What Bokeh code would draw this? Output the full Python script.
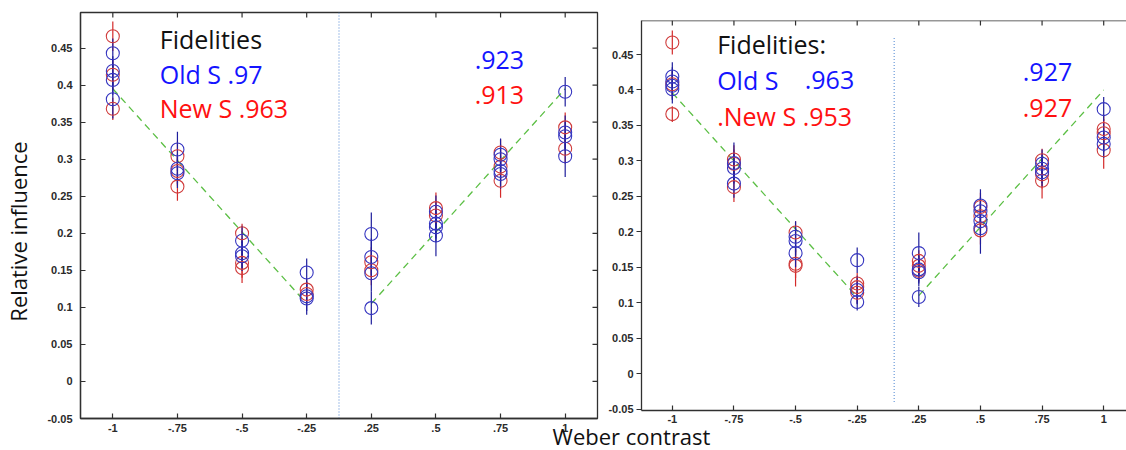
import math
from bokeh.plotting import figure
from bokeh.models import Range1d, FixedTicker, Label, GridBox, Span
from bokeh.embed import file_html
from bokeh.resources import INLINE

# ---------------- data ----------------
contrast_labels = ["-1", "-.75", "-.5", "-.25", ".25", ".5", ".75", "1"]
y_tick_labels = ["-0.05", "0", "0.05", "0.1", "0.15", "0.2", "0.25", "0.3", "0.35", "0.4", "0.45"]

# Left panel, Old S (blue) and New S (red): values per contrast + error half-widths
left_old_y = [[0.443, 0.419, 0.407, 0.381], [0.313, 0.287, 0.281], [0.190, 0.173, 0.169],
              [0.147, 0.115, 0.112], [0.199, 0.168, 0.146, 0.099], [0.229, 0.213, 0.208, 0.197],
              [0.306, 0.300, 0.284, 0.280], [0.391, 0.336, 0.331, 0.304]]
left_old_err = [[0.020, 0.020, 0.020, 0.026], [0.024, 0.020, 0.020], [0.020, 0.020, 0.020],
                [0.019, 0.020, 0.022], [0.029, 0.025, 0.025, 0.022], [0.022, 0.020, 0.020, 0.028],
                [0.022, 0.020, 0.020, 0.020], [0.020, 0.023, 0.020, 0.028]]
left_new_y = [[0.466, 0.414, 0.368], [0.304, 0.284, 0.263], [0.200, 0.160, 0.153],
              [0.124, 0.118], [0.161, 0.150], [0.234, 0.224],
              [0.309, 0.290, 0.271], [0.343, 0.314]]
left_new_err = [[0.020, 0.020, 0.015], [0.020, 0.020, 0.019], [0.013, 0.020, 0.020],
                [0.015, 0.015], [0.020, 0.020], [0.021, 0.020],
                [0.018, 0.020, 0.023], [0.020, 0.020]]

# Right panel
right_old_y = [[0.419, 0.412, 0.406, 0.401], [0.297, 0.290, 0.268], [0.193, 0.187, 0.170],
               [0.160, 0.118, 0.101], [0.170, 0.147, 0.143, 0.108], [0.237, 0.229, 0.215, 0.205],
               [0.296, 0.289, 0.284], [0.373, 0.333, 0.324]]
right_old_err = [[0.020, 0.020, 0.020, 0.020], [0.029, 0.020, 0.020], [0.022, 0.020, 0.020],
                 [0.018, 0.020, 0.012], [0.029, 0.020, 0.020, 0.014], [0.023, 0.020, 0.020, 0.036],
                 [0.020, 0.020, 0.020], [0.017, 0.020, 0.020]]
right_new_y = [[0.467, 0.408, 0.366], [0.302, 0.296, 0.263], [0.199, 0.155, 0.152],
               [0.127, 0.122, 0.114], [0.159, 0.152, 0.145], [0.235, 0.222, 0.202],
               [0.301, 0.281, 0.272], [0.345, 0.339, 0.315]]
right_new_err = [[0.017, 0.020, 0.011], [0.020, 0.020, 0.021], [0.016, 0.020, 0.029],
                 [0.015, 0.015, 0.015], [0.015, 0.015, 0.015], [0.020, 0.020, 0.020],
                 [0.016, 0.020, 0.025], [0.020, 0.020, 0.026]]

# Model (green dashed) at contrasts -1, -.25 | .25, 1
left_fit_y = [0.395, 0.105, 0.105, 0.395]
right_fit_y = [0.396, 0.108, 0.110, 0.400]

BLUE_C = "#3535c0"
RED_C = "#d03c3c"
BLUE_E = "#1e1e9c"
RED_E = "#d42a2a"
AX = "#303030"
TXT_FONT = "Open Sans"
TICK_FONT = "Liberation Sans"

y_ticks = [float(s) for s in y_tick_labels]
x_ticks = list(range(1, len(contrast_labels) + 1))
x_over = {t: l for t, l in zip(x_ticks, contrast_labels)}
y_over = {t: l for t, l in zip(y_ticks, y_tick_labels)}


def flat(vals, errs):
    xs, ys, es = [], [], []
    for i, (vv, ee) in enumerate(zip(vals, errs)):
        for v, e in zip(vv, ee):
            xs.append(i + 1)
            ys.append(v)
            es.append(e)
    return xs, ys, es


def draw_points(p, old_y, old_e, new_y, new_e):
    nx, ny, ne = flat(new_y, new_e)
    ox, oy, oe = flat(old_y, old_e)
    p.segment(x0=nx, x1=nx, y0=[a - b for a, b in zip(ny, ne)], y1=[a + b for a, b in zip(ny, ne)],
              line_color=RED_E, line_width=1.2)
    p.segment(x0=ox, x1=ox, y0=[a - b for a, b in zip(oy, oe)], y1=[a + b for a, b in zip(oy, oe)],
              line_color=BLUE_E, line_width=1.2)
    p.scatter(nx, ny, marker="circle", size=13, fill_color=None, line_color=RED_C, line_width=1.1)
    p.scatter(ox, oy, marker="circle", size=13, fill_color=None, line_color=BLUE_C, line_width=1.1)


def draw_fit(p, fit_y):
    p.line([1, 4], fit_y[:2], line_color="#5cbf45", line_width=1.3, line_dash="7 5")
    p.line([5, 8], fit_y[2:], line_color="#5cbf45", line_width=1.3, line_dash="7 5")


def style_axis(ax, ticks, over, tin=5, tout=0, standoff=4):
    ax.ticker = FixedTicker(ticks=ticks)
    ax.major_label_overrides = over
    ax.minor_tick_line_color = None
    ax.major_tick_in = tin
    ax.major_tick_out = tout
    ax.axis_line_color = AX
    ax.axis_line_width = 1.3
    ax.major_tick_line_color = AX
    ax.major_tick_line_width = 1.2
    ax.major_label_text_font = TICK_FONT
    ax.major_label_text_font_size = "11px"
    ax.major_label_text_font_style = "bold"
    ax.major_label_text_color = "#2a2a2a"
    ax.major_label_standoff = standoff


def box_ticks(p, top, right=None):
    # inward tick marks on the top (and right) frame edges, matlab box style
    p.ray(x=x_ticks, y=[top] * len(x_ticks), length=5, length_units="screen",
          angle=-math.pi / 2, line_color=AX, line_width=1.2)
    if right is not None:
        p.ray(x=[right] * len(y_ticks), y=y_ticks, length=5, length_units="screen",
              angle=math.pi, line_color=AX, line_width=1.2)


def add_text(p, x, y, text, color):
    p.add_layout(Label(x=x, y=y, text=text, text_color=color, text_font=TXT_FONT,
                       text_font_size="25px", text_align="left", text_baseline="alphabetic"))


# ---------------- left panel ----------------
p1 = figure(width=605, height=450, x_range=Range1d(0.5, 8.5), y_range=Range1d(-0.05, 0.498),
            output_backend="svg", toolbar_location=None,
            min_border_left=80, min_border_right=8, min_border_top=12, min_border_bottom=32)
p1.frame_align = False
p1.grid.visible = False
p1.outline_line_color = AX
p1.outline_line_width = 1.3
style_axis(p1.xaxis[0], x_ticks, x_over, standoff=5)
style_axis(p1.yaxis[0], y_ticks, y_over, standoff=8)
box_ticks(p1, 0.498, 8.5)

p1.segment(x0=4.5, x1=4.5, y0=-0.05, y1=0.498, line_color="#5b8fd6", line_width=1.1, line_dash="1 2")
draw_fit(p1, left_fit_y)
draw_points(p1, left_old_y, left_old_err, left_new_y, left_new_err)

add_text(p1, 1.726, 0.4625, "Fidelities", "#111111")
add_text(p1, 1.726, 0.4155, "Old S .97", "#1414ff")
add_text(p1, 1.726, 0.3685, "New S .963", "#ff1010")
add_text(p1, 6.60, 0.4335, ".923", "#1414ff")
add_text(p1, 6.60, 0.386, ".913", "#ff1010")

# ---------------- right panel ----------------
p2 = figure(width=521, height=450, x_range=Range1d(0.5, 8.37), y_range=Range1d(-0.052, 0.498),
            output_backend="svg", toolbar_location=None,
            min_border_left=34, min_border_right=0, min_border_top=20, min_border_bottom=40)
p2.frame_align = False
p2.grid.visible = False
p2.outline_line_color = None
style_axis(p2.xaxis[0], x_ticks, x_over, standoff=4)
style_axis(p2.yaxis[0], y_ticks, y_over, tin=0, tout=5, standoff=3)
p2.add_layout(Span(location=0.498, dimension="width", line_color=AX, line_width=1.3))
box_ticks(p2, 0.498)

p2.segment(x0=4.6, x1=4.6, y0=-0.04, y1=0.474, line_color="#5b8fd6", line_width=1.1, line_dash="1 2")
draw_fit(p2, right_fit_y)
draw_points(p2, right_old_y, right_old_err, right_new_y, right_new_err)

add_text(p2, 1.728, 0.4655, "Fidelities:", "#111111")
add_text(p2, 1.728, 0.4134, "Old S", "#1414ff")
add_text(p2, 3.149, 0.4134, ".963", "#1414ff")
add_text(p2, 1.728, 0.364, ".New S .953", "#ff1010")
add_text(p2, 6.687, 0.4247, ".927", "#1414ff")
add_text(p2, 6.687, 0.3739, ".927", "#ff1010")

# ---------------- overlay for shared axis titles ----------------
ov = figure(width=1126, height=450, x_range=Range1d(0, 1126), y_range=Range1d(450, 0),
            output_backend="svg", toolbar_location=None, x_axis_location=None, y_axis_location=None,
            min_border=0, min_border_left=0, min_border_right=0, min_border_top=0, min_border_bottom=0)
ov.frame_align = False
ov.grid.visible = False
ov.outline_line_color = None
ov.background_fill_color = None
ov.border_fill_color = None
ov.add_layout(Label(x=631, y=435, text="Weber contrast", text_font=TXT_FONT, text_font_size="22px",
                    text_color="#111111", text_align="center", text_baseline="alphabetic"))
ov.add_layout(Label(x=17, y=231, text="Relative influence", text_font=TXT_FONT, text_font_size="22px",
                    text_color="#111111", text_align="center", text_baseline="alphabetic",
                    angle=math.pi / 2))

layout = GridBox(children=[(p1, 0, 0), (p2, 0, 1), (ov, 0, 0, 1, 2)])

open("out.html", "w").write(file_html(layout, INLINE))
